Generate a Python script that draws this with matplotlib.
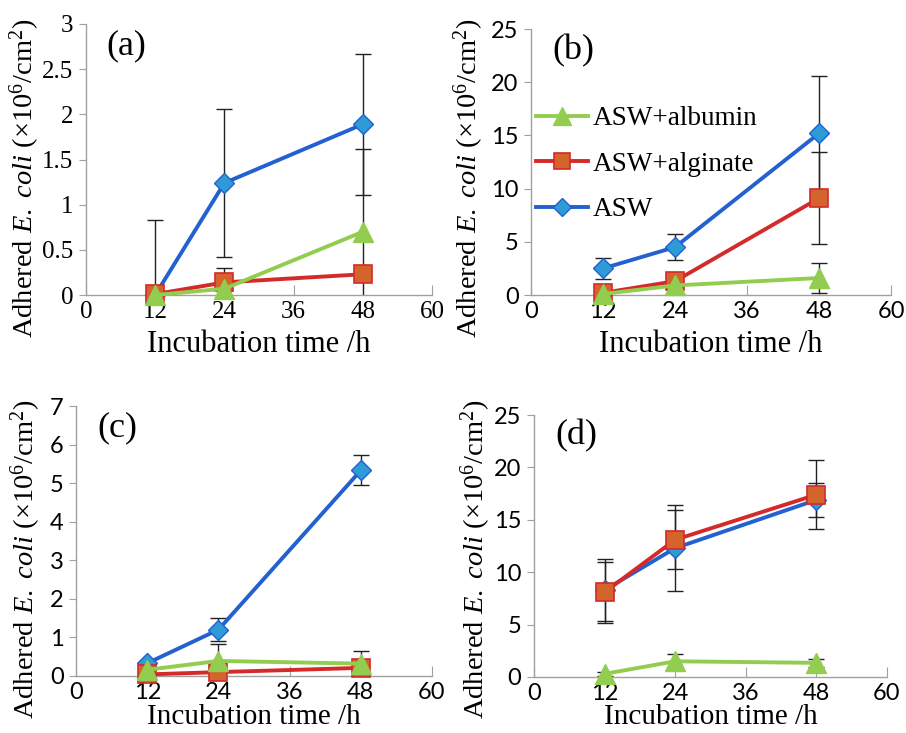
import numpy as np
import matplotlib
matplotlib.use("Agg")
import matplotlib.pyplot as plt

plt.rcParams["font.family"] = ["Liberation Serif", "DejaVu Serif"]
plt.rcParams["mathtext.fontset"] = "custom"
plt.rcParams["mathtext.rm"] = "Liberation Serif"
plt.rcParams["mathtext.it"] = "Liberation Serif:italic"

# incubation times (h)
hours = [12, 24, 48]

# (a)
a_asw = [0.0, 1.24, 1.89]
a_asw_err = [0.83, 0.82, 0.78]
a_alg = [0.01, 0.14, 0.23]
a_alg_err = [0.02, 0.16, 0.05]
a_alb = [0.0, 0.07, 0.70]
a_alb_err = [0.0, 0.03, 0.92]

# (b)
b_asw = [2.5, 4.5, 15.2]
b_asw_err = [1.0, 1.2, 5.4]
b_alg = [0.2, 1.3, 9.1]
b_alg_err = [0.2, 0.5, 4.3]
b_alb = [0.1, 0.9, 1.6]
b_alb_err = [0.1, 0.3, 1.45]

# (c)
c_asw = [0.33, 1.2, 5.33]
c_asw_err = [0.05, 0.3, 0.39]
c_alg = [0.04, 0.1, 0.21]
c_alg_err = [0.02, 0.05, 0.1]
c_alb = [0.16, 0.39, 0.32]
c_alb_err = [0.05, 0.45, 0.33]

# (d)
d_asw = [8.3, 12.3, 16.9]
d_asw_err = [3.0, 4.1, 1.6]
d_alg = [8.1, 13.1, 17.4]
d_alg_err = [2.9, 2.8, 3.3]
d_alb = [0.3, 1.5, 1.35]
d_alb_err = [0.2, 0.65, 0.4]

# tag, axes rect, y max, y step, tick font, y-label coords, x-label y, x-label size
panels = [
    ("(a)", [0.0949, 0.5975, 0.3819, 0.3698], 3, 0.5, "serif", (-0.127, 0.43), -0.13, 22,
     a_asw, a_asw_err, a_alg, a_alg_err, a_alb, a_alb_err),
    ("(b)", [0.5861, 0.5975, 0.3974, 0.3629], 25, 5, "sans", (-0.125, 0.44), -0.13, 22,
     b_asw, b_asw_err, b_alg, b_alg_err, b_alb, b_alb_err),
    ("(c)", [0.0839, 0.0778, 0.3929, 0.3683], 7, 1, "sans", (-0.093, 0.433), -0.103, 21,
     c_asw, c_asw_err, c_alg, c_alg_err, c_alb, c_alb_err),
    ("(d)", [0.5894, 0.0764, 0.3896, 0.3574], 25, 5, "sans", (-0.116, 0.45), -0.103, 21,
     d_asw, d_asw_err, d_alg, d_alg_err, d_alb, d_alb_err),
]

blue_line = "#2360d0"
blue_fill = "#2e9bd6"
red_line = "#d42a2a"
red_fill = "#d2642c"
green = "#92cd50"
axis_gray = "#a0a0a0"

fig = plt.figure(figsize=(9.06, 7.33), dpi=100)

for (tag, rect, ymax, ystep, tickfont, ylab_xy, xlab_y, xlab_size,
     asw, asw_e, alg, alg_e, alb, alb_e) in panels:
    ax = fig.add_axes(rect)
    ax.set_xlim(0, 60)
    ax.set_ylim(0, ymax)
    ax.set_xticks([0, 12, 24, 36, 48, 60])
    ax.set_yticks(np.arange(0, ymax + ystep / 2, ystep))
    if tickfont == "serif":
        ax.set_yticklabels(["0", "0.5", "1", "1.5", "2", "2.5", "3"])
        fam = ["Liberation Serif"]
        tsize = 18
    else:
        fam = ["Lato", "DejaVu Sans"]
        tsize = 17
    for lab in ax.get_xticklabels() + ax.get_yticklabels():
        lab.set_family(fam)
        lab.set_fontsize(tsize)
    for side in ["top", "right"]:
        ax.spines[side].set_visible(False)
    for side in ["left", "bottom"]:
        ax.spines[side].set_color(axis_gray)
        ax.spines[side].set_linewidth(1.0)
    ax.tick_params(axis="x", direction="in", length=7, color=axis_gray, pad=4)
    ax.tick_params(axis="y", direction="out", length=5, color=axis_gray, pad=4)

    # error bars sit under the markers
    for vals, errs in [(asw, asw_e), (alg, alg_e), (alb, alb_e)]:
        ax.errorbar(hours, vals, yerr=errs, fmt="none", ecolor="#222222",
                    elinewidth=1.0, capsize=6, capthick=1.0, zorder=2)

    ax.plot(hours, asw, color=blue_line, lw=2.8, marker="D", ms=10,
            mfc=blue_fill, mec=blue_line, mew=1, clip_on=False, zorder=3,
            label="ASW")
    ax.plot(hours, alg, color=red_line, lw=2.8, marker="s", ms=13,
            mfc=red_fill, mec=red_line, mew=1.2, clip_on=False, zorder=4,
            label="ASW+alginate")
    ax.plot(hours, alb, color=green, lw=2.8, marker="^", ms=14,
            mfc=green, mec=green, clip_on=False, zorder=5,
            label="ASW+albumin")

    ax.set_xlabel("Incubation time /h", fontsize=xlab_size)
    ax.set_ylabel(r"Adhered $\mathit{E.\ coli}$ (×10$^{6}$/cm$^{2}$)",
                  fontsize=20.5)
    ax.yaxis.set_label_coords(*ylab_xy)
    ax.xaxis.set_label_coords(0.5, xlab_y)
    ax.text(0.06, 0.92, tag, transform=ax.transAxes, fontsize=26,
            ha="left", va="center")

    if tag == "(b)":
        h, l = ax.get_legend_handles_labels()
        ax.legend(h[::-1], l[::-1], loc="upper left",
                  bbox_to_anchor=(-0.016, 0.75), frameon=False, fontsize=19.5,
                  handlelength=1.9, handletextpad=0.2, labelspacing=0.75,
                  borderaxespad=0, markerscale=0.9)

fig.savefig("out.png", dpi=100)
plt.close()
